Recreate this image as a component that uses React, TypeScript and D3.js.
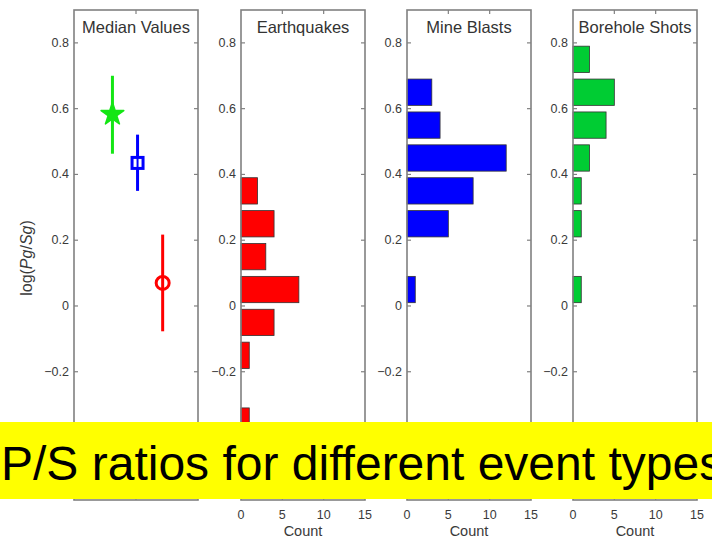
import React, { useEffect, useRef } from 'react';
import * as d3 from 'd3';

// log(Pg/Sg) ticks and count ticks (-0.4 sits under the banner, so it is left out)
const yTicks = [-0.2, 0, 0.2, 0.4, 0.6, 0.8];
const countTicks = [0, 5, 10, 15];

// histogram bins (centres) and counts per event type
const binCenters = [-0.35, -0.25, -0.15, -0.05, 0.05, 0.15, 0.25, 0.35, 0.45, 0.55, 0.65, 0.75];
const earthquakes = [1, 0, 1, 4, 7, 3, 4, 2, 0, 0, 0, 0];
const mineBlasts = [0, 0, 0, 0, 1, 0, 5, 8, 12, 4, 3, 0];
const boreholeShots = [0, 0, 0, 0, 1, 0, 1, 1, 2, 4, 5, 2];

// median values with spread
const medianX = [1.24, 2.05, 2.86];
const medianValues = [0.583, 0.435, 0.07];
const medianLow = [0.463, 0.35, -0.077];
const medianHigh = [0.7, 0.521, 0.217];
const medianColors = ['#14e614', '#0000ff', '#ff0000'];
const medianMarkers = ['star', 'square', 'circle'];

const panelTitles = ['Median Values', 'Earthquakes', 'Mine Blasts', 'Borehole Shots'];
const histColors = ['#ff0000', '#0000ff', '#00cc33'];
const bannerText = 'P/S ratios for different event types';

const FONT = '"Liberation Sans", Arial, Helvetica, sans-serif';

const App = () => {
  const ref = useRef<SVGSVGElement>(null);

  useEffect(() => {
    const svg = d3.select(ref.current);
    svg.selectAll('*').remove();

    const top = 10;
    const bottom = 500;
    const panelW = 124;
    const lefts = [74, 241, 407, 573];
    const axisColor = '#808080';

    const y = d3.scaleLinear().domain([-0.59, 0.9]).range([bottom, top]);
    const fmt = d3.format('');
    const series = [earthquakes, mineBlasts, boreholeShots];

    lefts.forEach((left, i) => {
      const g = svg.append('g').attr('transform', `translate(${left},0)`);

      // y ticks, inward on both sides
      yTicks.forEach(t => {
        g.append('line').attr('x1', 0).attr('x2', 4).attr('y1', y(t)).attr('y2', y(t))
          .attr('stroke', axisColor).attr('stroke-width', 1.2);
        g.append('line').attr('x1', panelW).attr('x2', panelW - 4).attr('y1', y(t)).attr('y2', y(t))
          .attr('stroke', axisColor).attr('stroke-width', 1.2);
        g.append('text')
          .attr('x', -5).attr('y', y(t))
          .attr('text-anchor', 'end').attr('dominant-baseline', 'central')
          .attr('font-family', FONT).attr('font-size', 12.5).attr('fill', '#3a3a3a')
          .text(fmt(t));
      });

      if (i === 0) {
        const x = d3.scaleLinear().domain([0, 4]).range([0, panelW]);
        [top, bottom].forEach((yy, k) => {
          g.append('line').attr('x1', x(2)).attr('x2', x(2))
            .attr('y1', yy).attr('y2', k === 0 ? yy + 4 : yy - 4)
            .attr('stroke', axisColor).attr('stroke-width', 1.2);
        });

        medianX.forEach((mx, j) => {
          const c = medianColors[j];
          g.append('line')
            .attr('x1', x(mx)).attr('x2', x(mx))
            .attr('y1', y(medianHigh[j])).attr('y2', y(medianLow[j]))
            .attr('stroke', c).attr('stroke-width', 3);
          const cx = x(mx);
          const cy = y(medianValues[j]);
          if (medianMarkers[j] === 'star') {
            g.append('path')
              .attr('d', d3.symbol().type(d3.symbolStar).size(160)())
              .attr('transform', `translate(${cx},${cy})`)
              .attr('fill', c).attr('stroke', c).attr('stroke-width', 1.5)
              .attr('stroke-linejoin', 'round');
          } else if (medianMarkers[j] === 'square') {
            g.append('rect')
              .attr('x', cx - 5.5).attr('y', cy - 5.5).attr('width', 11).attr('height', 11)
              .attr('fill', 'white').attr('stroke', c).attr('stroke-width', 3);
            g.append('line').attr('x1', cx).attr('x2', cx).attr('y1', cy - 5.5).attr('y2', cy + 5.5)
              .attr('stroke', c).attr('stroke-width', 2);
          } else {
            g.append('circle')
              .attr('cx', cx).attr('cy', cy).attr('r', 6.5)
              .attr('fill', 'none').attr('stroke', c).attr('stroke-width', 3);
          }
        });
      } else {
        const x = d3.scaleLinear().domain([0, 15]).range([0, panelW]);
        const counts = series[i - 1];
        const half = 0.04;

        binCenters.forEach((b, j) => {
          if (!counts[j]) return;
          g.append('rect')
            .attr('x', x(0))
            .attr('y', y(b + half))
            .attr('width', x(counts[j]) - x(0))
            .attr('height', y(b - half) - y(b + half))
            .attr('fill', histColors[i - 1])
            .attr('stroke', '#333').attr('stroke-width', 0.8);
        });

        countTicks.forEach(t => {
          if (t > 0 && t < 15) {
            g.append('line').attr('x1', x(t)).attr('x2', x(t)).attr('y1', top).attr('y2', top + 4)
              .attr('stroke', axisColor).attr('stroke-width', 1.2);
            g.append('line').attr('x1', x(t)).attr('x2', x(t)).attr('y1', bottom).attr('y2', bottom - 4)
              .attr('stroke', axisColor).attr('stroke-width', 1.2);
          }
          g.append('text')
            .attr('x', x(t)).attr('y', 519)
            .attr('text-anchor', 'middle')
            .attr('font-family', FONT).attr('font-size', 12.5).attr('fill', '#3a3a3a')
            .text(fmt(t));
        });

        g.append('text')
          .attr('x', panelW / 2).attr('y', 536)
          .attr('text-anchor', 'middle')
          .attr('font-family', FONT).attr('font-size', 14.5).attr('fill', '#3a3a3a')
          .text('Count');
      }

      // frame
      g.append('rect')
        .attr('x', 0).attr('y', top).attr('width', panelW).attr('height', bottom - top)
        .attr('fill', 'none').attr('stroke', axisColor).attr('stroke-width', 1.6);

      g.append('text')
        .attr('x', panelW / 2).attr('y', 33)
        .attr('text-anchor', 'middle')
        .attr('font-family', FONT).attr('font-size', 16.5).attr('fill', '#333')
        .text(panelTitles[i]);
    });

    // y label
    const yl = svg.append('text')
      .attr('transform', `translate(26,${(top + bottom) / 2 + 3}) rotate(-90)`)
      .attr('text-anchor', 'middle').attr('dominant-baseline', 'central')
      .attr('font-family', FONT).attr('font-size', 16).attr('fill', '#3a3a3a');
    yl.append('tspan').text('log(');
    yl.append('tspan').attr('font-style', 'italic').text('Pg');
    yl.append('tspan').text('/');
    yl.append('tspan').attr('font-style', 'italic').text('Sg');
    yl.append('tspan').text(')');

    // banner
    svg.append('rect').attr('x', 0).attr('y', 422).attr('width', 712).attr('height', 77).attr('fill', '#ffff00');
    svg.append('text')
      .attr('x', 1).attr('y', 480)
      .attr('font-family', FONT).attr('font-size', 48).attr('fill', '#000')
      .text(bannerText);
  }, []);

  return (
    <svg
      ref={ref}
      width={712}
      height={541}
      style={{ position: 'absolute', left: 0, top: 0, background: '#fff' }}
    ></svg>
  );
};

export default App;
